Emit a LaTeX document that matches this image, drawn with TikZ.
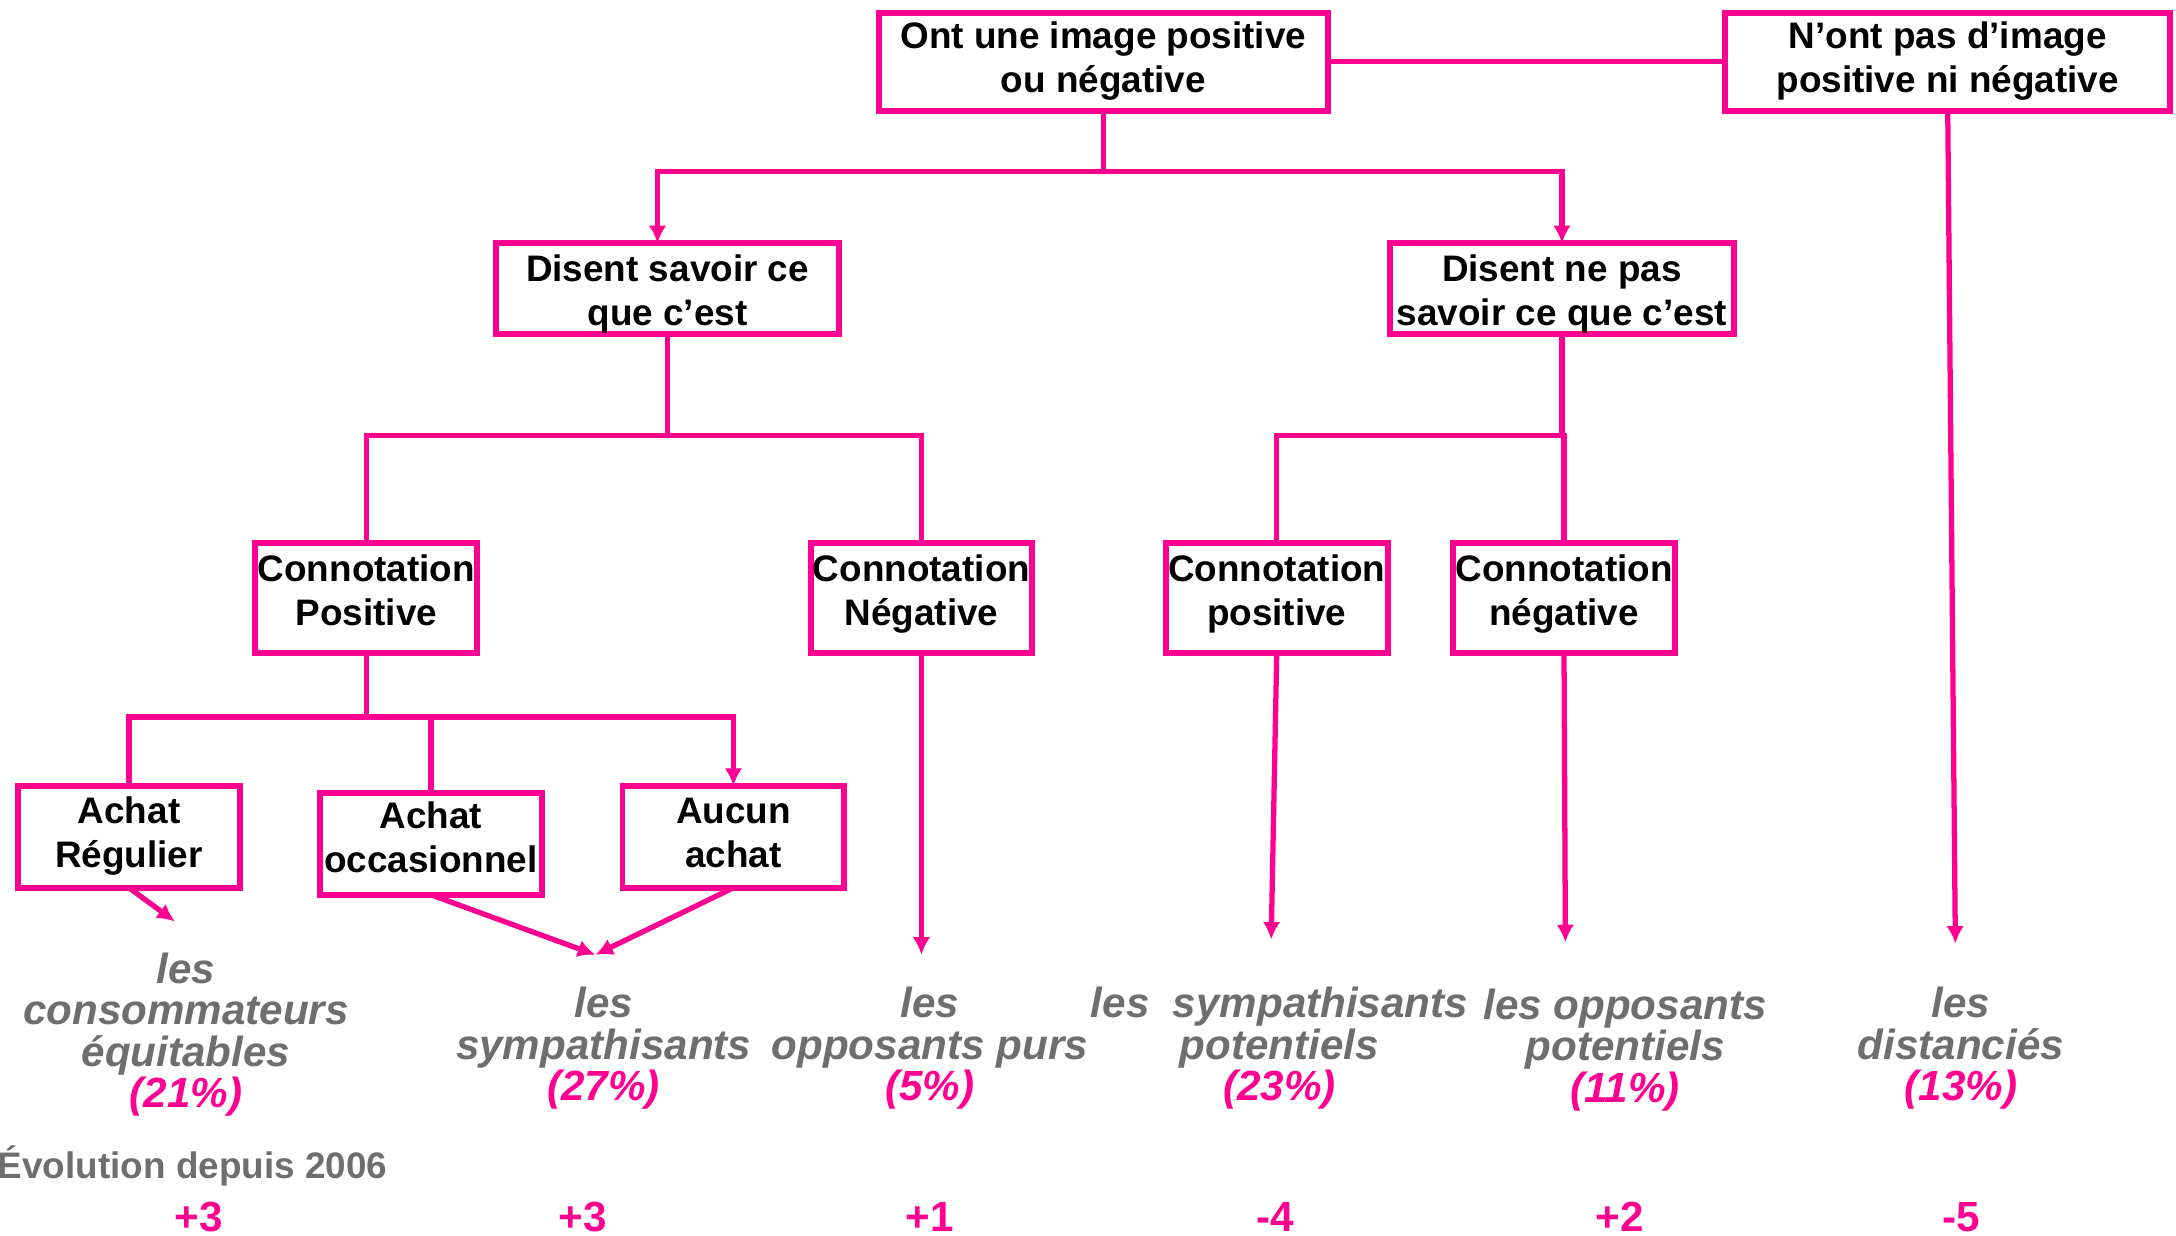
\documentclass[tikz,border=0pt]{standalone}
\usepackage{fontspec}
\setmainfont{Liberation Sans}
\usetikzlibrary{arrows.meta}
\definecolor{fuchsia}{RGB}{255,0,144}
\definecolor{labelgray}{RGB}{110,110,110}

\begin{document}
\begin{tikzpicture}[x=0.013878cm,y=-0.013878cm,inner sep=0pt,outer sep=0pt,
color=fuchsia,line width=1.5pt,>={Latex[length=5pt,width=5pt]},
box/.style={draw,rectangle,line width=1.7pt,text=black,align=center,
  font=\bfseries\fontsize{10.5}{12.5}\selectfont,execute at end node={\rule[-#1]{0pt}{0pt}}},
topbox/.style={box=2.5pt,minimum width=4.49cm,minimum height=0.98cm},
saybox/.style={box=2.5pt,minimum width=3.44cm,minimum height=0.91cm},
connbox/.style={box=4.45pt,minimum width=2.22cm,minimum height=1.1cm},
achatbox/.style={box=#1,minimum width=2.22cm,minimum height=1.02cm},
grouplabel/.style={text=labelgray,align=center,font=\bfseries\itshape\fontsize{12}{11.8}\selectfont},
evolnum/.style={text=fuchsia,font=\bfseries\fontsize{12}{14}\selectfont}]

\useasboundingbox (0,0) rectangle (1568,890);

\draw (795,44.5) node[topbox] (image) {Ont une image positive\\ou négative};
\draw (1403.5,44.5) node[topbox,minimum width=4.45cm] (noimage) {N’ont pas d’image\\positive ni négative};
\draw (481,208) node[saybox] (say) {\rule{0pt}{10.8pt}Disent savoir ce\\que c’est};
\draw (1125.5,208) node[saybox] (nosay) {\rule{0pt}{10.8pt}Disent ne pas\\savoir ce que c’est};
\draw (264,431) node[connbox] (connpos) {Connotation\\Positive};
\draw (664,431) node[connbox] (connneg) {Connotation\\Négative};
\draw (920,431) node[connbox] (nsconnpos) {Connotation\\positive};
\draw (1127,431) node[connbox] (nsconnneg) {Connotation\\négative};
\draw (93,603) node[achatbox=2.9pt] (regulier) {Achat\\Régulier};
\draw (310.5,608) node[achatbox=3.7pt] (occas) {Achat\\occasionnel};
\draw (528.5,603) node[achatbox=2.1pt] (aucun) {Aucun\\achat};

\draw (134,745.5) node[grouplabel] (equit) {les\\consommateurs\\équitables\\{\color{fuchsia}(21\%)}};
\draw (435,755.5) node[grouplabel] (sympa) {les\\sympathisants\\{\color{fuchsia}(27\%)}};
\draw (670,755.5) node[grouplabel] (purs) {les\\opposants purs\\{\color{fuchsia}(5\%)}};
\draw (922,755.5) node[grouplabel] (sympapot) {les~~sympathisants\\potentiels\\{\color{fuchsia}(23\%)}};
\draw (1171,756.5) node[grouplabel] (opppot) {les opposants\\potentiels\\{\color{fuchsia}(11\%)}};
\draw (1413,755.5) node[grouplabel] (dist) {les\\distanciés\\{\color{fuchsia}(13\%)}};

\draw (279,840) node[anchor=east,text=labelgray,font=\bfseries\fontsize{10.5}{12}\selectfont] (evol) {Évolution depuis 2006};
\draw (143,877) node[evolnum] (evequit) {+3};
\draw (420,877) node[evolnum] (evsympa) {+3};
\draw (670,877) node[evolnum] (evpurs) {+1};
\draw (919,877) node[evolnum] (evsympapot) {-4};
\draw (1167,877) node[evolnum] (evopppot) {+2};
\draw (1413,877) node[evolnum] (evdist) {-5};

\coordinate (equit in) at (126,664);
\coordinate (sympa in) at (429,688);
\coordinate (purs in) at (664,688);
\coordinate (sympapot in) at (916,677);
\coordinate (opppot in) at (1128,679);
\coordinate (dist in) at (1409,680);

\draw (image.east) -- (noimage.west);
\draw (image.south) -- ++(0,44) coordinate (split1);
\draw[->] (split1) -| ([xshift=-0.1cm]say.north);
\draw[->] (split1) -| (nosay.north);

\draw (say.south) -- ++(0,73) coordinate (split2);
\draw (split2) -| (connpos.north);
\draw (split2) -| (connneg.north);
\draw (nosay.south) -- ++(0,73) coordinate (split3);
\draw (split3) -| (nsconnpos.north);
\draw (split3) -| (nsconnneg.north);

\draw (connpos.south) -- ++(0,46) coordinate (split4);
\draw (split4) -| (regulier.north);
\draw (split4) -| (occas.north);
\draw[->] (split4) -| (aucun.north);

\draw[->] (regulier.south) -- (equit in);
\draw[->] (occas.south) -- (sympa in);
\draw[->] (aucun.south) -- (sympa in);
\draw[->] (connneg.south) -- (purs in);
\draw[->] (nsconnpos.south) -- (sympapot in);
\draw[->] (nsconnneg.south) -- (opppot in);
\draw[->] (noimage.south) -- (dist in);

\end{tikzpicture}
\end{document}
